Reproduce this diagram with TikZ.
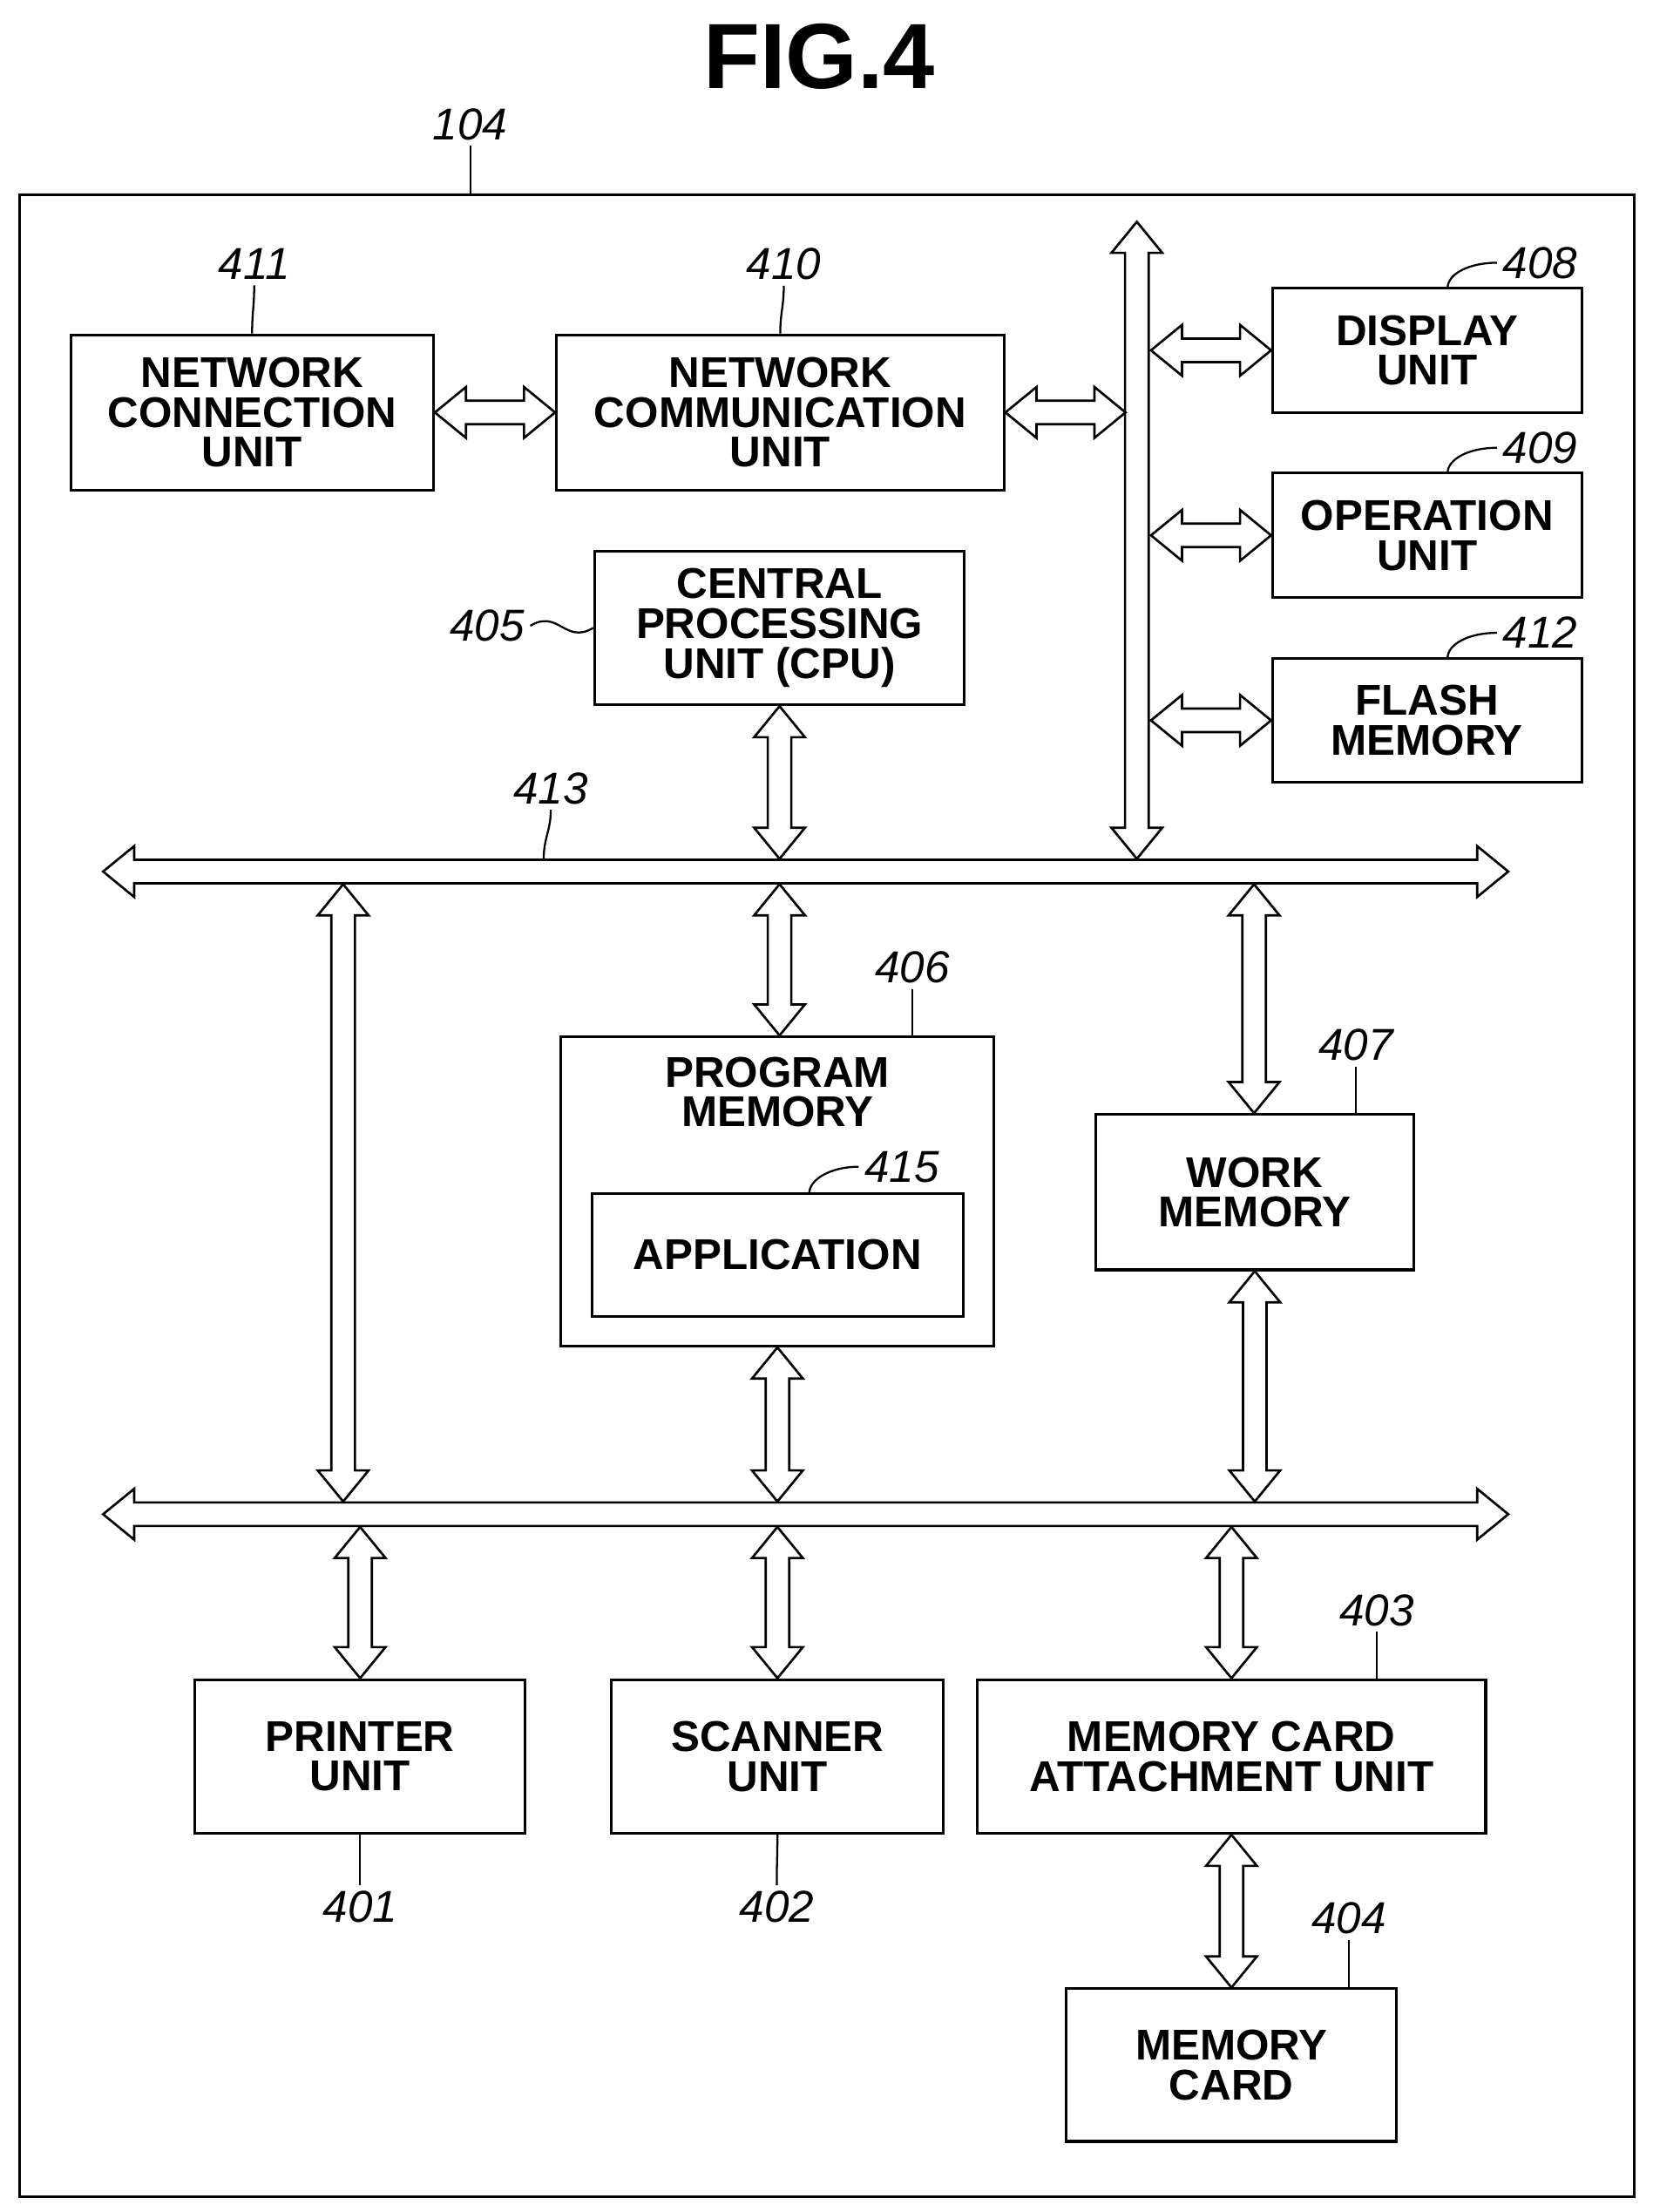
\documentclass[tikz,border=0pt]{standalone}
\usepackage{fontspec}
\setmainfont{Liberation Sans}
\usetikzlibrary{calc}

% hollow double arrows between two named points
\newcommand\vdarrow[2]{%
  \draw[dbl] let \p1=#1, \p2=#2 in
    (\x1,\y1) -- ({\x1+0.54cm},{\y1-0.66cm}) -- ({\x1+0.25cm},{\y1-0.66cm})
    -- ({\x1+0.25cm},{\y2+0.66cm}) -- ({\x1+0.54cm},{\y2+0.66cm}) -- (\x1,\y2)
    -- ({\x1-0.54cm},{\y2+0.66cm}) -- ({\x1-0.25cm},{\y2+0.66cm})
    -- ({\x1-0.25cm},{\y1-0.66cm}) -- ({\x1-0.54cm},{\y1-0.66cm}) -- cycle;}
\newcommand\hdarrow[2]{%
  \draw[dbl] let \p1=#1, \p2=#2 in
    (\x1,\y1) -- ({\x1+0.66cm},{\y1+0.54cm}) -- ({\x1+0.66cm},{\y1+0.25cm})
    -- ({\x2-0.66cm},{\y1+0.25cm}) -- ({\x2-0.66cm},{\y1+0.54cm}) -- (\x2,\y1)
    -- ({\x2-0.66cm},{\y1-0.54cm}) -- ({\x2-0.66cm},{\y1-0.25cm})
    -- ({\x1+0.66cm},{\y1-0.25cm}) -- ({\x1+0.66cm},{\y1-0.54cm}) -- cycle;}

\begin{document}
\begin{tikzpicture}[x=0.03cm,y=-0.03cm,
    box/.style={draw,line width=1.6pt,align=center,inner sep=0pt,
      font=\fontsize{26}{24}\selectfont\bfseries},
    lbl/.style={font=\fontsize{27}{27}\selectfont\itshape},
    dbl/.style={line width=1.4pt,fill=white,line join=miter},
    lead/.style={line width=1.2pt},
  ]
  \useasboundingbox (0,0) rectangle (1170,1566);
  \node[font=\fontsize{56}{56}\selectfont\bfseries] (title) at (580,40) {FIG.4};

  % frame
  \draw[line width=1.6pt] (14,138) rectangle (1157,1555);
  \node[lbl] (l104) at (333,88) {104};
  \coordinate (f104) at (333,138);
  \draw[lead] (l104.south) .. controls +(0,15) and +(0,-15) .. (f104);

  % boxes
  \node[box,minimum width=257*0.03cm,minimum height=110*0.03cm] (ncu) at (178.5,292) {NETWORK\\CONNECTION\\UNIT};
  \node[box,minimum width=317*0.03cm,minimum height=110*0.03cm] (ncom) at (552.5,292) {NETWORK\\COMMUNICATION\\UNIT};
  \node[box,minimum width=219*0.03cm,minimum height=88*0.03cm] (disp) at (1010.5,248) {DISPLAY\\UNIT};
  \node[box,minimum width=219*0.03cm,minimum height=88*0.03cm] (oper) at (1010.5,379) {OPERATION\\UNIT};
  \node[box,minimum width=219*0.03cm,minimum height=88*0.03cm] (flash) at (1010.5,510) {FLASH\\MEMORY};
  \node[box,minimum width=262*0.03cm,minimum height=109*0.03cm] (cpu) at (552,444.5) {CENTRAL\\PROCESSING\\UNIT (CPU)};
  \node[box,minimum width=307*0.03cm,minimum height=219*0.03cm] (prog) at (550.5,843.5) {};
  \node[font=\fontsize{26}{24}\selectfont\bfseries,align=center] (progt) at (550.5,773) {PROGRAM\\MEMORY};
  \node[box,minimum width=263*0.03cm,minimum height=87*0.03cm] (app) at (550.5,888.5) {APPLICATION};
  \node[box,minimum width=225*0.03cm,minimum height=110*0.03cm] (work) at (888.5,844) {WORK\\MEMORY};
  \node[box,minimum width=234*0.03cm,minimum height=109*0.03cm] (prn) at (255,1243.5) {PRINTER\\UNIT};
  \node[box,minimum width=235*0.03cm,minimum height=109*0.03cm] (scan) at (550.5,1243.5) {SCANNER\\UNIT};
  \node[box,minimum width=360*0.03cm,minimum height=109*0.03cm] (mca) at (872,1243.5) {MEMORY CARD\\ATTACHMENT UNIT};
  \node[box,minimum width=234*0.03cm,minimum height=108*0.03cm] (card) at (872,1462) {MEMORY\\CARD};

  % buses
  \coordinate (vbT) at (805,157);
  \coordinate (vbB) at (805,608);
  \coordinate (b1L) at (73,617);
  \coordinate (b1R) at (1068,617);
  \coordinate (b2L) at (73,1072);
  \coordinate (b2R) at (1068,1072);
  \vdarrow{(vbT)}{(vbB)}
  \hdarrow{(b1L)}{(b1R)}
  \hdarrow{(b2L)}{(b2R)}

  % connectors
  \hdarrow{(ncu.east)}{(ncom.west)}
  \hdarrow{(ncom.east)}{(797,292)}
  \hdarrow{(815,248)}{(disp.west)}
  \hdarrow{(815,379)}{(oper.west)}
  \hdarrow{(815,510)}{(flash.west)}
  \vdarrow{(cpu.south)}{(552,608)}
  \vdarrow{(552,626)}{(prog.north)}
  \vdarrow{(888,626)}{(work.north)}
  \vdarrow{(243,626)}{(243,1063)}
  \vdarrow{(prog.south)}{(550.5,1063)}
  \vdarrow{(work.south)}{(888.5,1063)}
  \vdarrow{(255,1081)}{(prn.north)}
  \vdarrow{(550.5,1081)}{(scan.north)}
  \vdarrow{(872,1081)}{(mca.north)}
  \vdarrow{(mca.south)}{(card.north)}

  % reference numerals
  \node[lbl] (l411) at (180,187) {411};
  \draw[lead] (l411.south) .. controls +(0,15) and +(0,-15) .. (ncu.north);
  \node[lbl] (l410) at (555,187) {410};
  \draw[lead] (l410.south) .. controls +(0,15) and +(0,-15) .. (ncom.north);
  \node[lbl,anchor=west] (l408) at (1060,186) {408};
  \draw[lead] (l408.west) .. controls +(-20,0) and +(0,-10) .. (1025,204);
  \node[lbl,anchor=west] (l409) at (1060,317) {409};
  \draw[lead] (l409.west) .. controls +(-20,0) and +(0,-10) .. (1025,335);
  \node[lbl,anchor=west] (l412) at (1060,448) {412};
  \draw[lead] (l412.west) .. controls +(-20,0) and +(0,-10) .. (1025,466);
  \node[lbl,anchor=west] (l415) at (608,826) {415};
  \draw[lead] (l415.west) .. controls +(-20,0) and +(0,-10) .. (573,845);
  \node[lbl] (l405) at (345,443) {405};
  \draw[lead] (l405.east) .. controls +(20,-12) and +(-20,12) .. (cpu.west);
  \node[lbl] (l413) at (390,558) {413};
  \draw[lead] (l413.south) .. controls +(0,15) and +(0,-15) .. (385,608);
  \node[lbl] (l406) at (646,685) {406};
  \draw[lead] (l406.south) .. controls +(0,15) and +(0,-15) .. (646,734);
  \node[lbl] (l407) at (960,740) {407};
  \draw[lead] (l407.south) .. controls +(0,15) and +(0,-15) .. (960,789);
  \node[lbl] (l403) at (975,1140) {403};
  \draw[lead] (l403.south) .. controls +(0,15) and +(0,-15) .. (975,1189);
  \node[lbl] (l401) at (255,1350) {401};
  \draw[lead] (prn.south) .. controls +(0,15) and +(0,-15) .. (l401.north);
  \node[lbl] (l402) at (550,1350) {402};
  \draw[lead] (scan.south) .. controls +(0,15) and +(0,-15) .. (l402.north);
  \node[lbl] (l404) at (955,1358) {404};
  \draw[lead] (l404.south) .. controls +(0,15) and +(0,-15) .. (955,1408);
\end{tikzpicture}
\end{document}
